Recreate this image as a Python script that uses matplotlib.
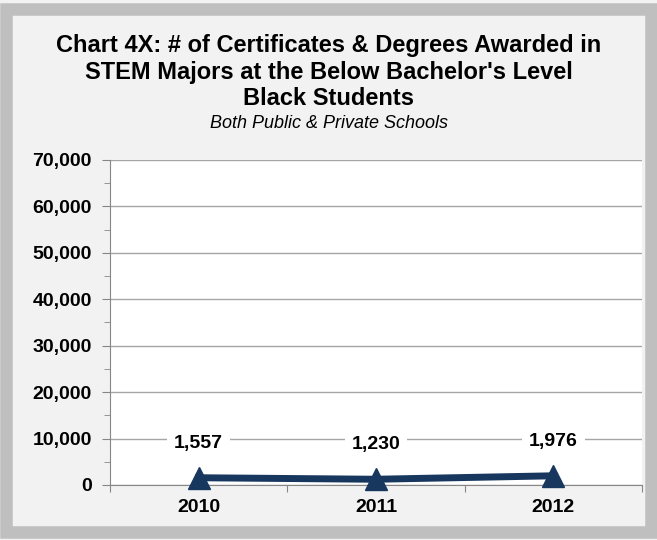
import matplotlib.pyplot as plt
from matplotlib.patches import Rectangle
from matplotlib.ticker import FuncFormatter, MultipleLocator, FixedLocator

years = ['2010', '2011', '2012']
awarded = [1557, 1230, 1976]
y_ticks = list(range(0, 70001, 10000))

plt.rcParams['font.family'] = ['Liberation Sans', 'DejaVu Sans']

fig = plt.figure(figsize=(6.57, 5.40), dpi=100)
fig.patch.set_facecolor('#f2f2f2')
# gray outer frame
fig.patches.append(Rectangle((0.009, 0.014), 0.982, 0.97, transform=fig.transFigure,
                             fill=False, edgecolor='#bfbfbf', linewidth=9, zorder=0))

ax = fig.add_axes([0.1674, 0.1019, 0.8097, 0.6019])
ax.set_facecolor('white')

x = list(range(len(years)))
ax.plot(x, awarded, color='#17375e', linewidth=5, marker='^', markersize=16,
        zorder=3, clip_on=False)

for xi, v in zip(x, awarded):
    ax.annotate(f'{v:,}', (xi, v), xytext=(0, 25), textcoords='offset points',
                ha='center', va='center', fontsize=14, fontweight='bold',
                bbox=dict(boxstyle='square,pad=0.35', fc='white', ec='none'), zorder=4)

ax.set_xlim(-0.5, 2.5)
ax.set_ylim(0, 70000)
ax.set_yticks(y_ticks)
ax.yaxis.set_minor_locator(MultipleLocator(5000))
ax.yaxis.set_major_formatter(FuncFormatter(lambda v, p: f'{int(v):,}'))
ax.xaxis.set_major_locator(FixedLocator([-0.5, 0.5, 1.5, 2.5]))
ax.xaxis.set_major_formatter(FuncFormatter(lambda v, p: ''))
ax.xaxis.set_minor_locator(FixedLocator(x))
ax.set_xticklabels(years, minor=True)

ax.grid(axis='y', which='major', color='#a6a6a6', linewidth=1)
ax.set_axisbelow(True)
for s in ['top', 'right']:
    ax.spines[s].set_visible(False)
for s in ['left', 'bottom']:
    ax.spines[s].set_color('#868686')

ax.tick_params(axis='y', which='major', length=6, color='#868686', labelsize=14, pad=7)
ax.tick_params(axis='y', which='minor', length=4, color='#868686')
ax.tick_params(axis='x', which='major', length=5, color='#868686')
ax.tick_params(axis='x', which='minor', length=0, labelsize=14, pad=10)
for lab in ax.get_yticklabels() + ax.get_xticklabels(minor=True):
    lab.set_fontweight('bold')

fig.text(0.5, 0.866, "Chart 4X: # of Certificates & Degrees Awarded in\n"
         "STEM Majors at the Below Bachelor's Level\nBlack Students",
         ha='center', va='center', fontsize=17, fontweight='bold', linespacing=1.2)
fig.text(0.5, 0.772, 'Both Public & Private Schools', ha='center', va='center',
         fontsize=13, style='italic')

plt.savefig('out.png', dpi=100, facecolor=fig.get_facecolor())
